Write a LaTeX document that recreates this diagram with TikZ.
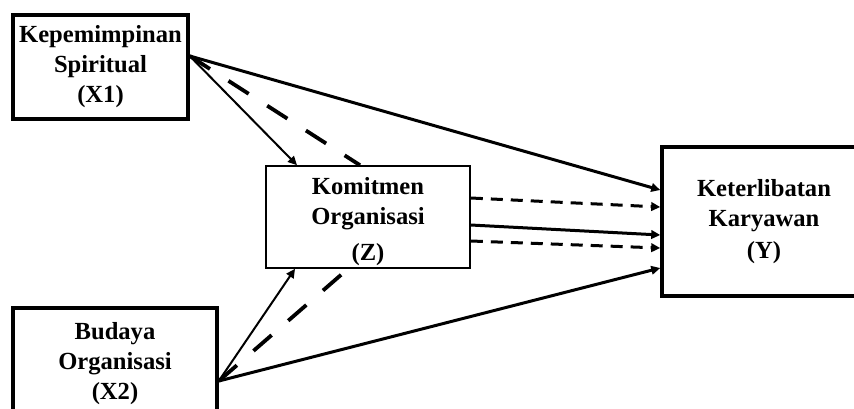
\documentclass[tikz,border=0pt]{standalone}
\usepackage{fontspec}
\setmainfont{Liberation Serif}
\usetikzlibrary{arrows.meta}
\begin{document}
\begin{tikzpicture}[x=1pt,y=-1pt,
  varbox/.style={draw,line width=3.5pt,rectangle,align=center,inner sep=0pt,
    font=\bfseries\fontsize{24.6}{30}\selectfont},
  medbox/.style={varbox,line width=1.6pt},
  tip/.style={-{Triangle[length=9pt,width=8.5pt]}},
  thinarr/.style={tip,line width=2pt},
  thickarr/.style={tip,line width=3pt},
  longdash/.style={line width=3.8pt,dash pattern=on 24pt off 22pt},
  shortdash/.style={tip,line width=3pt,dash pattern=on 12pt off 8pt}]
\useasboundingbox (0,0) rectangle (854,408);
\clip (0,0) rectangle (854,408);
\node[varbox,minimum width=175pt,minimum height=104pt] (x1) at (100.5,67) {Kepemimpinan\\Spiritual\\(X1)};
\node[varbox,minimum width=204pt,minimum height=112pt] (x2) at (115,364) {Budaya\\Organisasi\\(X2)};
\node[medbox,minimum width=204pt,minimum height=102pt] (z) at (368,217) {\rule{0pt}{27pt}Komitmen\\Organisasi\\[6pt](Z)};
\node[varbox,minimum width=204pt,minimum height=149pt] (y) at (764,221.5) {Keterlibatan\\Karyawan\\[2pt](Y)};
% from X1
\draw[thinarr] ([yshift=11pt]x1.east) -- ([xshift=-71pt]z.north);
\draw[longdash] ([yshift=11pt]x1.east) -- ([xshift=-8pt]z.north);
\draw[thickarr] ([yshift=11pt]x1.east) -- ([yshift=31.5pt]y.west);
% from X2
\draw[thinarr] ([yshift=-17pt]x2.east) -- ([xshift=-73pt]z.south);
\draw[longdash] ([yshift=-17pt]x2.east) -- ([xshift=-20pt]z.south);
\draw[thickarr] ([yshift=-17pt]x2.east) -- ([yshift=-46.5pt]y.west);
% from Z
\draw[shortdash] ([yshift=19pt]z.east) -- ([yshift=14.5pt]y.west);
\draw[thickarr] ([yshift=-8pt]z.east) -- ([yshift=-13.5pt]y.west);
\draw[shortdash] ([yshift=-24pt]z.east) -- ([yshift=-26.5pt]y.west);
\end{tikzpicture}
\end{document}
